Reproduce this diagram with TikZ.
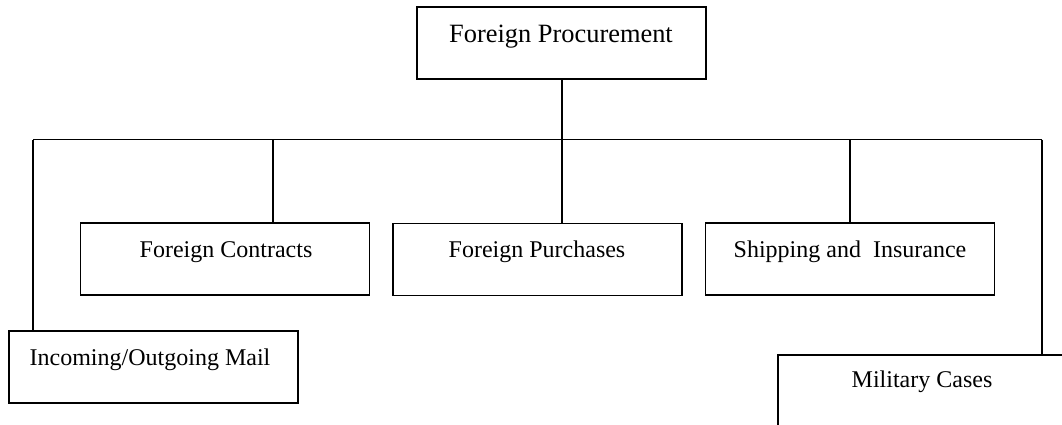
\documentclass[tikz,border=0pt]{standalone}
\usepackage{fontspec}
\setmainfont{Liberation Serif}
\begin{document}
\begin{tikzpicture}[x=1pt,y=-1pt,
  line width=1.9pt,
  unitbox/.style={draw, rectangle, inner sep=0pt, minimum width=289pt, minimum height=72pt},
  boxtext/.style={anchor=base, inner sep=0pt, font=\fontsize{24}{28}\selectfont},
  toptext/.style={anchor=base, inner sep=0pt, font=\fontsize{26.4}{30}\selectfont}]
  \clip (0,0) rectangle (1062,425);

  % boxes
  \node[unitbox] (top)  at (561.5,43) {};
  \node[unitbox] (fc)   at (225,259) {};
  \node[unitbox] (fp)   at (537.5,259.5) {};
  \node[unitbox] (si)   at (850,259) {};
  \node[unitbox] (mail) at (153.5,367) {};
  \node[unitbox] (mil)  at (922.5,391) {};

  % labels
  \node[toptext] (ttop)  at (561,43) {Foreign Procurement};
  \node[boxtext] (tfc)   at (226,257) {Foreign Contracts};
  \node[boxtext] (tfp)   at (537,257) {Foreign Purchases};
  \node[boxtext] (tsi)   at (850,257) {Shipping and\ \ Insurance};
  \node[boxtext] (tmail) at (150,365) {Incoming/Outgoing Mail};
  \node[boxtext] (tmil)  at (922,387) {Military Cases};

  % bus coordinates
  \coordinate (bl) at (33,139.5);
  \coordinate (bc) at (273,139.5);
  \coordinate (bm) at (562,139.5);
  \coordinate (bs) at (850,139.5);
  \coordinate (br) at (1042,139.5);

  % connectors
  \draw (top.south -| bm) -- (bm);
  \draw (bl) -- (br);
  \draw (bl) -- (bl |- mail.north);
  \draw (bc) -- (bc |- fc.north);
  \draw (bm) -- (bm |- fp.north);
  \draw (bs) -- (bs |- si.north);
  \draw (br) -- (br |- mil.north);
\end{tikzpicture}
\end{document}
